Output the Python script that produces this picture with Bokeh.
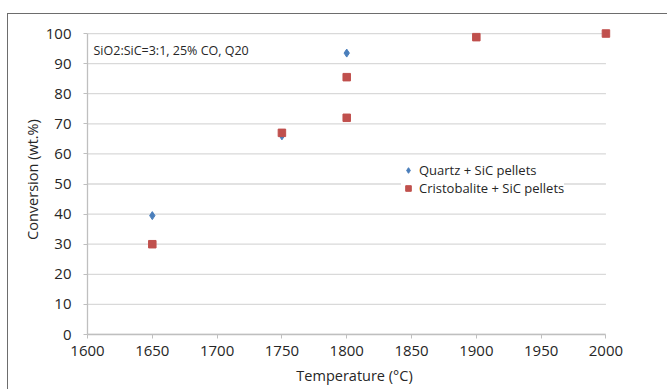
from bokeh.plotting import figure
from bokeh.models import Legend, LegendItem, Label, FixedTicker, Range1d
from bokeh.embed import file_html
from bokeh.resources import INLINE

quartz_temp = [1650, 1750, 1800]
quartz_conv = [39.5, 66, 93.5]
crist_temp = [1650, 1750, 1800, 1800, 1900, 2000]
crist_conv = [30, 67, 85.5, 72, 98.8, 100]
x_ticks = [1600, 1650, 1700, 1750, 1800, 1850, 1900, 1950, 2000]
y_ticks = [0, 10, 20, 30, 40, 50, 60, 70, 80, 90, 100]

FONT = "Open Sans"
TXT = "#262626"

p = figure(width=660, height=376, frame_width=534, frame_height=310,
           min_border_left=79, min_border_top=10, min_border_right=47, min_border_bottom=56,
           output_backend="svg", toolbar_location=None,
           x_range=Range1d(1600, 2012), y_range=Range1d(0, 103))
p.margin = (13, 0, 0, 7)
p.styles = {"border-left": "1.5px solid #6d6d6d", "border-top": "1.5px solid #6d6d6d"}
p.outline_line_color = None
p.background_fill_color = "white"
p.border_fill_color = "white"

p.xgrid.grid_line_color = None
p.ygrid.grid_line_color = None

# horizontal gridlines limited to the axis extent
p.segment(x0=[x_ticks[0]] * len(y_ticks), x1=[x_ticks[-1]] * len(y_ticks),
          y0=y_ticks, y1=y_ticks, line_color="#d9d9d9", line_width=1.3)

for ax in (p.xaxis[0], p.yaxis[0]):
    ax.axis_line_color = "#bfbfbf"
    ax.axis_line_width = 1.3
    ax.major_tick_line_color = "#bfbfbf"
    ax.minor_tick_line_color = None
    ax.major_tick_in = 0
    ax.major_tick_out = 4
    ax.major_label_text_font = FONT
    ax.major_label_text_font_size = "15px"
    ax.major_label_text_color = TXT
    ax.axis_label_text_font = FONT
    ax.axis_label_text_font_size = "14.5px"
    ax.axis_label_text_font_style = "normal"
    ax.axis_label_text_color = TXT

p.xaxis.bounds = (x_ticks[0], x_ticks[-1])
p.yaxis.bounds = (y_ticks[0], y_ticks[-1])
p.xaxis.ticker = FixedTicker(ticks=x_ticks)
p.yaxis.ticker = FixedTicker(ticks=y_ticks)
p.xaxis.axis_label = "Temperature (°C)"
p.yaxis.axis_label = "Conversion (wt.%)"
p.xaxis.major_label_standoff = 7
p.yaxis.major_label_standoff = 12
p.xaxis.axis_label_standoff = 7
p.yaxis.axis_label_standoff = 1

r1 = p.scatter(quartz_temp, quartz_conv, marker="diamond", size=8,
               fill_color="#4a7ebb", line_color="#4a7ebb")
r2 = p.scatter(crist_temp, crist_conv, marker="square", size=7.5,
               fill_color="#c0504d", line_color="#c0504d")

legend = Legend(items=[LegendItem(label="Quartz + SiC pellets", renderers=[r1]),
                       LegendItem(label="Cristobalite + SiC pellets", renderers=[r2])],
                location=(314, 137), orientation="vertical")
legend.border_line_color = None
legend.background_fill_color = "white"
legend.background_fill_alpha = 1
legend.label_text_font = FONT
legend.label_text_font_size = "13px"
legend.label_text_color = TXT
legend.glyph_width = 14
legend.glyph_height = 14
legend.label_height = 14
legend.label_standoff = 4
legend.spacing = 0
legend.padding = 6
legend.margin = 0
p.add_layout(legend, "center")

lab = Label(x=6, y=284, x_units="screen", y_units="screen",
            text="SiO2:SiC=3:1, 25% CO, Q20", text_font=FONT,
            text_font_size="12.5px", text_color=TXT, text_baseline="middle")
p.add_layout(lab)

open("out.html", "w").write(file_html(p, INLINE))
